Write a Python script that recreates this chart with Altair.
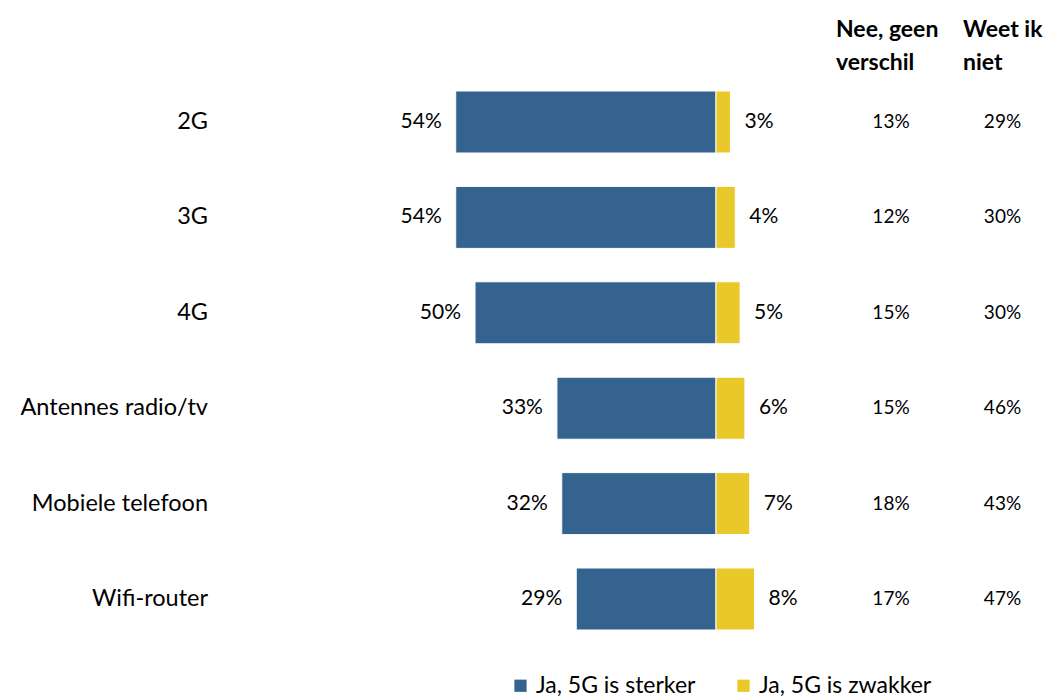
import altair as alt
import pandas as pd

categories = ["2G", "3G", "4G", "Antennes radio/tv", "Mobiele telefoon", "Wifi-router"]
sterker = [54, 54, 50, 33, 32, 29]
zwakker = [3, 4, 5, 6, 7, 8]
geen_verschil = [13, 12, 15, 15, 18, 17]
weet_niet = [29, 30, 30, 46, 43, 47]
series = ["Ja, 5G is sterker", "Ja, 5G is zwakker"]
colors = ["#35638F", "#E9C82A"]
headers = ["Nee, geen\nverschil", "Weet ik\nniet"]

FONT = "Lato"

rows = []
for c, s, z in zip(categories, sterker, zwakker):
    rows.append({"cat": c, "series": series[0], "x0": -s, "x1": 0, "val": s, "label": f"{s}%"})
    rows.append({"cat": c, "series": series[1], "x0": 0, "x1": z, "val": z, "label": f"{z}%"})
bars_df = pd.DataFrame(rows)

tab_df = pd.DataFrame({
    "cat": categories,
    "geen": [f"{v}%" for v in geen_verschil],
    "weet": [f"{v}%" for v in weet_niet],
})

PX = 4.82
ZERO = 708
xscale = alt.Scale(domain=[-60, 10], range=[ZERO - 60 * PX, ZERO + 10 * PX])
yscale = alt.Scale(domain=categories, range=[66.3, 638.7], paddingInner=0.35, paddingOuter=0.175)

base = alt.Chart(bars_df)

bars = base.mark_bar(stroke="white", strokeWidth=1).encode(
    x=alt.X("x0:Q", scale=xscale, axis=None),
    x2="x1:Q",
    y=alt.Y("cat:N", scale=yscale, axis=None),
    color=alt.Color(
        "series:N",
        scale=alt.Scale(domain=series, range=colors),
        legend=alt.Legend(
            title=None, orient="none", legendX=501, legendY=666, direction="horizontal",
            symbolType="square", symbolSize=150, symbolStrokeWidth=0,
            labelFont=FONT, labelFontSize=23, labelColor="#000000", labelLimit=400,
            columnPadding=36, symbolOffset=0, labelOffset=4,
        ),
    ),
)

left_labels = base.transform_filter(alt.datum.series == series[0]).mark_text(
    align="right", baseline="middle", dx=-14, font=FONT, fontSize=21, color="#000000"
).encode(
    x=alt.X("x0:Q", scale=xscale),
    y=alt.Y("cat:N", scale=yscale),
    text="label:N",
)

right_labels = base.transform_filter(alt.datum.series == series[1]).mark_text(
    align="left", baseline="middle", dx=14, font=FONT, fontSize=21, color="#000000"
).encode(
    x=alt.X("x1:Q", scale=xscale),
    y=alt.Y("cat:N", scale=yscale),
    text="label:N",
)

tab = alt.Chart(tab_df)
cat_labels = tab.mark_text(align="right", baseline="middle", font=FONT, fontSize=23.5, color="#000000").encode(
    x=alt.value(200), y=alt.Y("cat:N", scale=yscale), text="cat:N"
)
geen_col = tab.mark_text(align="center", baseline="middle", font=FONT, fontSize=19, color="#000000").encode(
    x=alt.value(883), y=alt.Y("cat:N", scale=yscale), text="geen:N"
)
weet_col = tab.mark_text(align="center", baseline="middle", font=FONT, fontSize=19, color="#000000").encode(
    x=alt.value(994.5), y=alt.Y("cat:N", scale=yscale), text="weet:N"
)

hdr_df = pd.DataFrame({"h": headers, "i": [0, 1]})
hdr = alt.Chart(hdr_df)
hdr1 = hdr.transform_filter(alt.datum.i == 0).mark_text(
    align="left", baseline="middle", lineBreak="\n", lineHeight=33, font=FONT, fontSize=23, fontWeight="bold", color="#000000"
).encode(x=alt.value(828), y=alt.value(22), text="h:N")
hdr2 = hdr.transform_filter(alt.datum.i == 1).mark_text(
    align="left", baseline="middle", lineBreak="\n", lineHeight=33, font=FONT, fontSize=23, fontWeight="bold", color="#000000"
).encode(x=alt.value(955), y=alt.value(22), text="h:N")

chart = alt.layer(bars, left_labels, right_labels, cat_labels, geen_col, weet_col, hdr1, hdr2).properties(
    width=1040, height=692, padding=0, autosize=alt.AutoSizeParams(type="none")
).configure_view(stroke=None).resolve_scale(y="shared")

chart.save("out.html", embed_options={"renderer": "svg", "actions": False})
